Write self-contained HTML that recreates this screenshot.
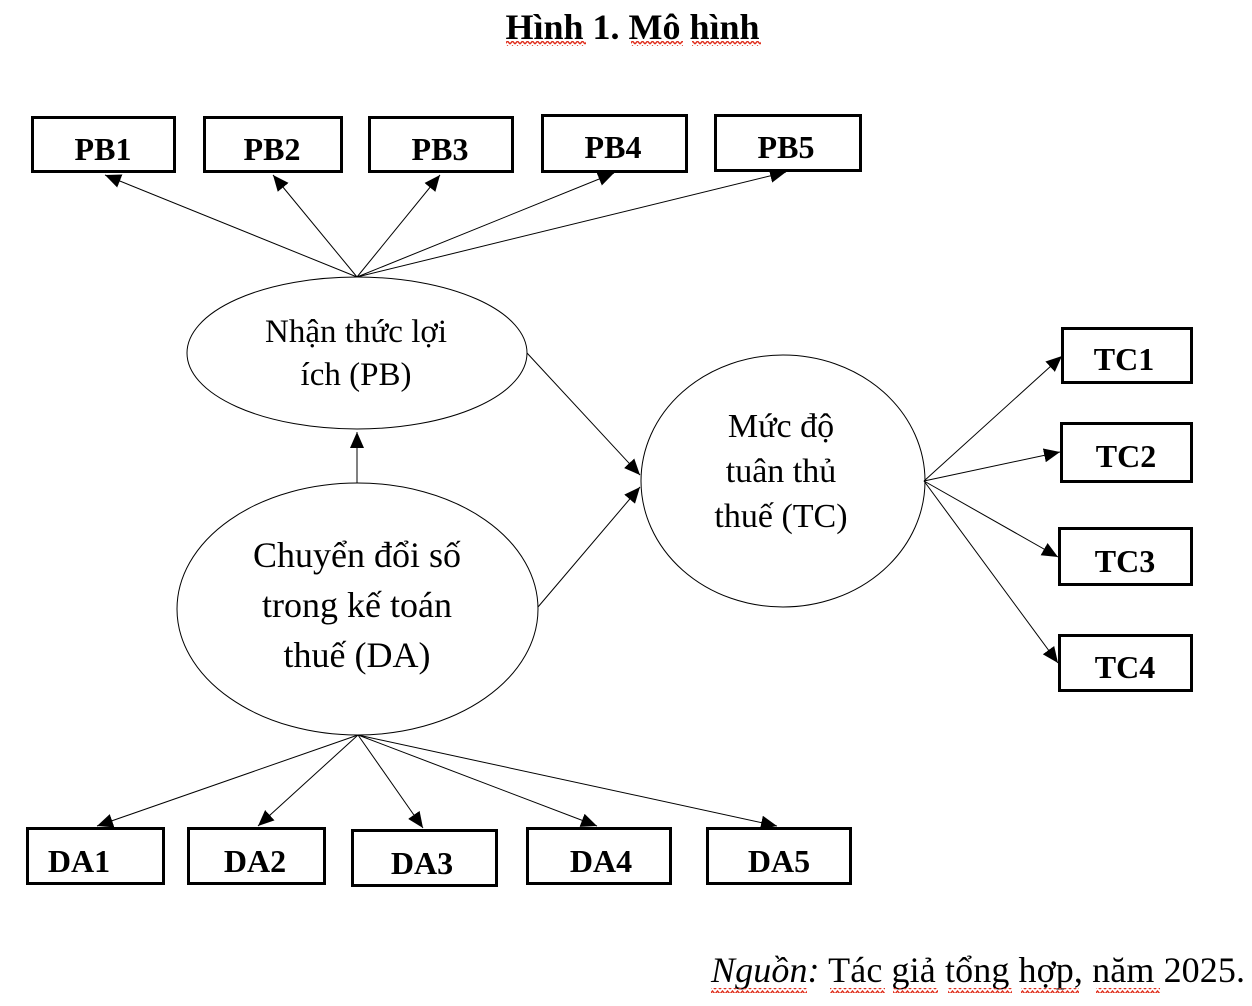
<!DOCTYPE html>
<html>
<head>
<meta charset="utf-8">
<style>
  html,body{margin:0;padding:0;background:#fff;}
  svg{display:block;}
  text{font-family:"Liberation Serif","Times New Roman",serif;fill:#000;}
  .b{font-weight:bold;font-size:32px;}
</style>
</head>
<body>
<svg width="1252" height="1006" viewBox="0 0 1252 1006" xmlns="http://www.w3.org/2000/svg">
  <defs>
    <marker id="ah" viewBox="0 0 16 14" refX="16" refY="7" markerWidth="16" markerHeight="14" markerUnits="userSpaceOnUse" orient="auto">
      <path d="M0,0 L16,7 L0,14 z" fill="#000"/>
    </marker>
    <pattern id="sq" x="0" y="0" width="5" height="5" patternUnits="userSpaceOnUse">
      <path d="M0,4 L2.5,1 L5,4" fill="none" stroke="#e0301e" stroke-width="1.4"/>
    </pattern>
  </defs>

  <!-- Title -->
  <text x="632.5" y="39" text-anchor="middle" font-size="36" font-weight="bold">Hình 1. Mô hình</text>
  <rect x="506" y="41" width="80" height="5" fill="url(#sq)"/>
  <rect x="631" y="41" width="52" height="5" fill="url(#sq)"/>
  <rect x="692" y="41" width="69" height="5" fill="url(#sq)"/>

  <!-- PB boxes -->
  <g fill="#fff" stroke="#000" stroke-width="3">
    <rect x="32.5" y="117.5" width="142" height="54"/>
    <rect x="204.5" y="117.5" width="137" height="54"/>
    <rect x="369.5" y="117.5" width="143" height="54"/>
    <rect x="542.5" y="115.5" width="144" height="56"/>
    <rect x="715.5" y="115.5" width="145" height="55"/>
    <!-- TC boxes -->
    <rect x="1062.5" y="328.5" width="129" height="54"/>
    <rect x="1061.5" y="423.5" width="130" height="58"/>
    <rect x="1059.5" y="528.5" width="132" height="56"/>
    <rect x="1059.5" y="635.5" width="132" height="55"/>
    <!-- DA boxes -->
    <rect x="27.5" y="828.5" width="136" height="55"/>
    <rect x="188.5" y="828.5" width="136" height="55"/>
    <rect x="352.5" y="830.5" width="144" height="55"/>
    <rect x="527.5" y="828.5" width="143" height="55"/>
    <rect x="707.5" y="828.5" width="143" height="55"/>
  </g>

  <text class="b" x="103" y="160" text-anchor="middle">PB1</text>
  <text class="b" x="272" y="160" text-anchor="middle">PB2</text>
  <text class="b" x="440" y="160" text-anchor="middle">PB3</text>
  <text class="b" x="613" y="158" text-anchor="middle">PB4</text>
  <text class="b" x="786" y="158" text-anchor="middle">PB5</text>

  <text class="b" x="1124" y="370" text-anchor="middle">TC1</text>
  <text class="b" x="1126" y="467" text-anchor="middle">TC2</text>
  <text class="b" x="1125" y="572" text-anchor="middle">TC3</text>
  <text class="b" x="1125" y="678" text-anchor="middle">TC4</text>

  <text class="b" x="79" y="872" text-anchor="middle">DA1</text>
  <text class="b" x="255" y="872" text-anchor="middle">DA2</text>
  <text class="b" x="422" y="874" text-anchor="middle">DA3</text>
  <text class="b" x="601" y="872" text-anchor="middle">DA4</text>
  <text class="b" x="779" y="872" text-anchor="middle">DA5</text>

  <!-- Ellipses -->
  <g fill="none" stroke="#000" stroke-width="1">
    <ellipse cx="357" cy="353" rx="170" ry="76"/>
    <ellipse cx="357.5" cy="609" rx="180.5" ry="126"/>
    <ellipse cx="783" cy="481" rx="142" ry="126"/>
  </g>

  <!-- Ellipse labels -->
  <text x="356" y="342" text-anchor="middle" font-size="33">Nhận thức lợi</text>
  <text x="356" y="385" text-anchor="middle" font-size="33">ích (PB)</text>

  <text x="357" y="567" text-anchor="middle" font-size="36">Chuyển đổi số</text>
  <text x="357" y="617" text-anchor="middle" font-size="36">trong kế toán</text>
  <text x="357" y="667" text-anchor="middle" font-size="36">thuế (DA)</text>

  <text x="781" y="437" text-anchor="middle" font-size="34">Mức độ</text>
  <text x="781" y="482" text-anchor="middle" font-size="34">tuân thủ</text>
  <text x="781" y="527" text-anchor="middle" font-size="34">thuế (TC)</text>

  <!-- Connectors -->
  <g stroke="#000" stroke-width="1" fill="none" marker-end="url(#ah)">
    <!-- PB indicators -->
    <line x1="357" y1="277" x2="105" y2="175"/>
    <line x1="357" y1="277" x2="273" y2="175"/>
    <line x1="357" y1="277" x2="440" y2="175"/>
    <line x1="357" y1="277" x2="614" y2="173"/>
    <line x1="357" y1="277" x2="786" y2="172"/>
    <!-- DA -> PB -->
    <line x1="357" y1="483" x2="357" y2="432"/>
    <!-- PB -> TC, DA -> TC -->
    <line x1="527" y1="353" x2="640" y2="475"/>
    <line x1="538" y1="607" x2="640" y2="487"/>
    <!-- TC indicators -->
    <line x1="924" y1="481" x2="1062" y2="356"/>
    <line x1="924" y1="481" x2="1060" y2="452"/>
    <line x1="924" y1="481" x2="1058" y2="557"/>
    <line x1="924" y1="481" x2="1058" y2="663"/>
    <!-- DA indicators -->
    <line x1="358" y1="735" x2="97" y2="826"/>
    <line x1="358" y1="735" x2="258" y2="826"/>
    <line x1="358" y1="735" x2="423" y2="828"/>
    <line x1="358" y1="735" x2="597" y2="826"/>
    <line x1="358" y1="735" x2="777" y2="826"/>
  </g>

  <!-- Source -->
  <text x="711" y="982" font-size="36" textLength="534" lengthAdjust="spacing"><tspan font-style="italic">Nguồn:</tspan> Tác giả tổng hợp, năm 2025.</text>
  <rect x="711" y="988" width="96" height="5" fill="url(#sq)"/>
  <rect x="830" y="988" width="55" height="5" fill="url(#sq)"/>
  <rect x="893" y="988" width="45" height="5" fill="url(#sq)"/>
  <rect x="948" y="988" width="64" height="5" fill="url(#sq)"/>
  <rect x="1021" y="988" width="58" height="5" fill="url(#sq)"/>
  <rect x="1096" y="988" width="64" height="5" fill="url(#sq)"/>
</svg>
</body>
</html>
